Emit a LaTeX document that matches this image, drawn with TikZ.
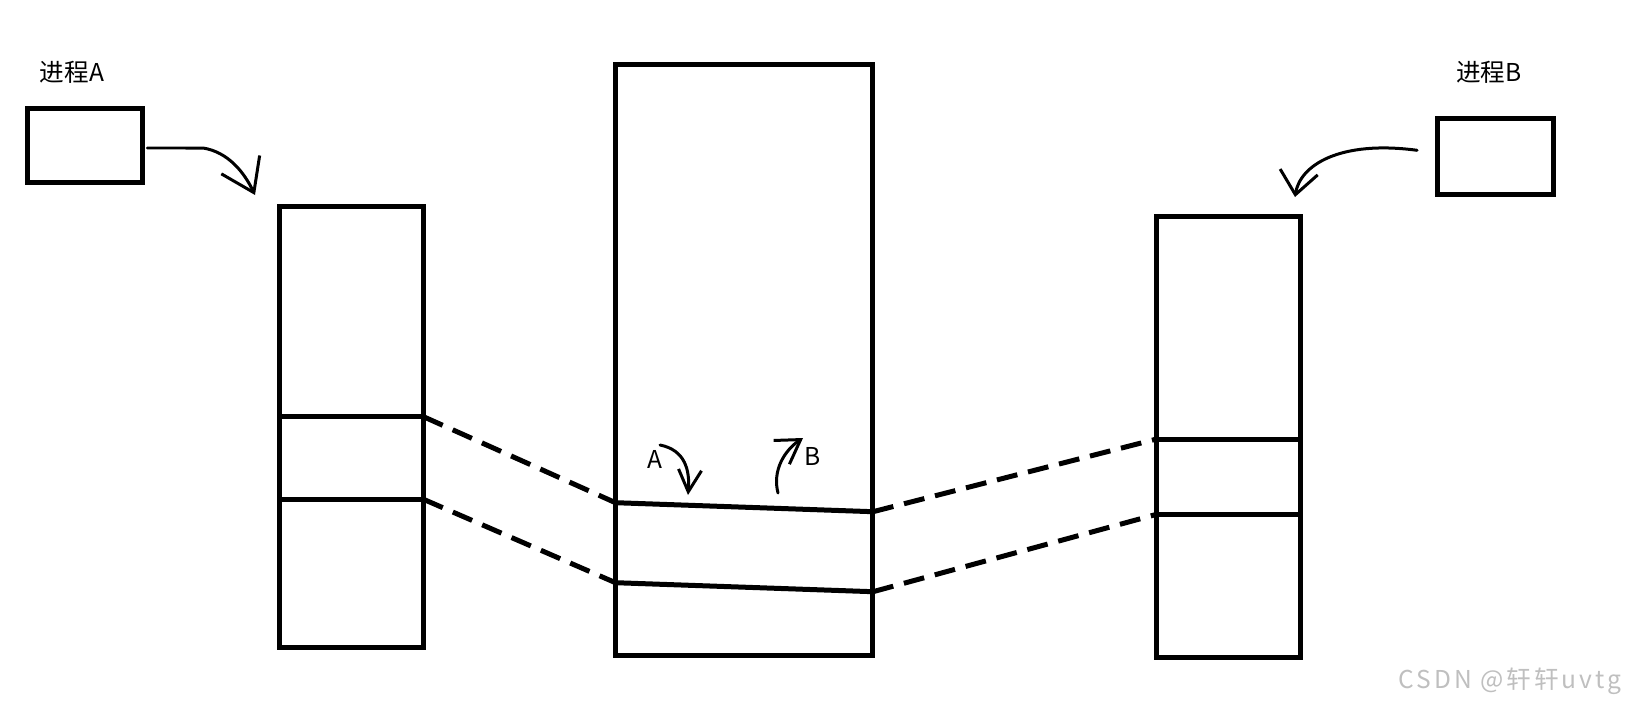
\documentclass[tikz,border=0pt]{standalone}
\usepackage{fontspec}
\newfontfamily\cjk{Noto Sans CJK SC}
\usetikzlibrary{arrows.meta}

\begin{document}
\begin{tikzpicture}[x=0.02cm,y=-0.02cm,
    box/.style={draw,line width=0.1cm,inner sep=0pt,outer sep=0pt},
    sep/.style={line width=0.1cm},
    link/.style={line width=0.1cm,dash pattern=on 0.42cm off 0.22cm},
    hand/.style={line width=0.06cm,line cap=round,line join=round},
    lbl/.style={font=\cjk\fontsize{14}{16}\selectfont}
  ]
  \useasboundingbox (0,0) rectangle (1632,713);
  % the two processes
  \node[box,minimum width=2.3cm,minimum height=1.49cm] (procA) at (85,145.5) {};
  \node[box,minimum width=2.31cm,minimum height=1.51cm] (procB) at (1495.3,156.3) {};
  \node[lbl] (nameA) at (72,72) {进程A};
  \node[lbl] (nameB) at (1489,72) {进程B};
  % address spaces and shared memory
  \node[box,minimum width=2.88cm,minimum height=8.81cm] (colL) at (351.5,426.85) {};
  \node[box,minimum width=5.15cm,minimum height=11.83cm] (colM) at (744.25,360.25) {};
  \node[box,minimum width=2.87cm,minimum height=8.81cm] (colR) at (1228.35,436.85) {};
  \coordinate (L1w) at (279.5,416.7);  \coordinate (L1e) at (423.5,416.7);
  \coordinate (L2w) at (279.5,499.3);  \coordinate (L2e) at (423.5,499.3);
  \coordinate (M1w) at (615.5,502.7);  \coordinate (M1e) at (873,511.7);
  \coordinate (M2w) at (615.5,582.7);  \coordinate (M2e) at (873,591.7);
  \coordinate (R1w) at (1156.7,439);   \coordinate (R1e) at (1300,439);
  \coordinate (R2w) at (1156.7,514.3); \coordinate (R2e) at (1300,514.3);
  \draw[sep] (L1w) -- (L1e);
  \draw[sep] (L2w) -- (L2e);
  \draw[sep] (M1w) -- (M1e);
  \draw[sep] (M2w) -- (M2e);
  \draw[sep] (R1w) -- (R1e);
  \draw[sep] (R2w) -- (R2e);
  % mapping
  \draw[link] (L1e) -- (M1w);
  \draw[link] (L2e) -- (M2w);
  \draw[link] (M1e) -- (R1w);
  \draw[link] (M2e) -- (R2w);
  % hand drawn arrows
  \coordinate (tipA) at (255,195);
  \coordinate (tipB) at (1295,197);
  \draw[hand,-{Straight Barb[length=0.62cm,width=0.85cm]}]
    ([xshift=0.1cm,yshift=-0.05cm]procA.east) -- (203,148)
    .. controls (228,152) and (244,172) .. (tipA);
  \draw[hand,-{Straight Barb[length=0.46cm,width=0.76cm]}]
    ([xshift=-0.41cm,yshift=0.12cm]procB.west)
    .. controls (1340,140) and (1300,165) .. (tipB);
  \node[lbl] (markA) at (655,459) {A};
  \node[lbl] (markB) at (813,456) {B};
  \coordinate (aS) at (660,445);
  \coordinate (aT) at (688,495);
  \coordinate (bS) at (778,493);
  \coordinate (bT) at (803,438);
  \draw[hand,-{Straight Barb[length=0.44cm,width=0.46cm]}]
    (aS) .. controls (685,450) and (690,470) .. (aT);
  \draw[hand,-{Straight Barb[length=0.46cm,width=0.57cm]}]
    (bS) .. controls (772,470) and (785,450) .. (bT);
  % watermark
  \node[font=\cjk\addfontfeature{LetterSpace=12}\fontsize{14}{16}\selectfont,
    text=black!25] (mark) at (1510,681) {CSDN @轩轩uvtg};
\end{tikzpicture}
\end{document}
